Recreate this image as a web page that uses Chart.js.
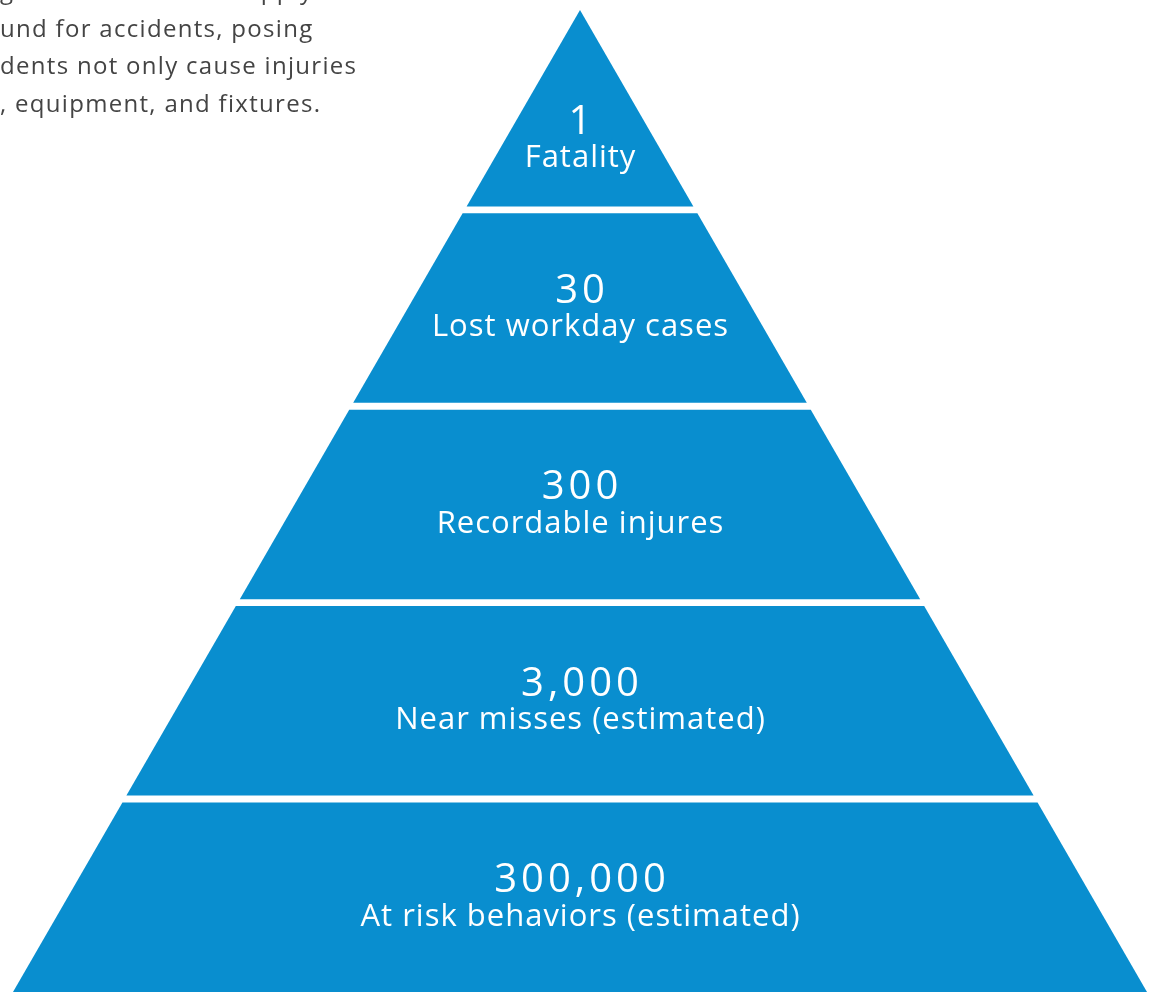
<!DOCTYPE html>
<html lang="en">
<head>
<meta charset="UTF-8">
<meta name="viewport" content="width=device-width, initial-scale=1.0">
<script src="https://cdn.jsdelivr.net/npm/chart.js@4.4.0/dist/chart.umd.min.js"></script>
<style>
  html, body { margin: 0; padding: 0; background: #fff; overflow: hidden; }
  #wrap { position: relative; width: 1151px; height: 992px; }
  #pyramid { position: absolute; left: 0; top: 0; }
  #intro {
    position: absolute; left: 0; top: -29px;
    font-family: "Open Sans", sans-serif; font-size: 24px; line-height: 37.5px;
    letter-spacing: 1.3px; color: #444; white-space: pre;
  }
</style>
<title>Safety pyramid</title>
</head>
<body>
<div id="wrap">
  <canvas id="pyramid" width="1151" height="992"></canvas>
  <div id="intro">g warehouses and supply chain
und for accidents, posing
dents not only cause injuries
, equipment, and fixtures.</div>
</div>
<script>
// levels, top of the pyramid first
const levels = ['Fatality', 'Lost workday cases', 'Recordable injures', 'Near misses (estimated)', 'At risk behaviors (estimated)'];
const counts = [1, 30, 300, 3000, 300000];

const blue = '#098ecf';
const gap = 0.035; // white strip between the bands, in level units
const n = levels.length;

// half width of the pyramid at height h (base = 1, apex = 0)
function half(h) { return (n - h) / n; }

const datasets = levels.map((name, k) => {
  const b = n - 1 - k;           // band index counted from the bottom
  const bot = b;
  const top = k === 0 ? n : b + 1 - gap;
  return {
    label: name,
    data: [
      {x: -half(bot), y: bot},
      {x: half(bot), y: bot},
      {x: half(top), y: top},
      {x: -half(top), y: top}
    ],
    showLine: true,
    fill: 'shape',
    backgroundColor: blue,
    borderColor: 'rgba(0,0,0,0)',
    borderWidth: 0,
    pointRadius: 0,
    tension: 0
  };
});

function spaced(ctx, text, x, y, sp) {
  ctx.letterSpacing = sp + 'px';
  ctx.fillText(text, x + sp / 2, y);
}

const labelPlugin = {
  id: 'levelLabels',
  afterDatasetsDraw(chart) {
    const {ctx, scales: {x, y}} = chart;
    ctx.save();
    ctx.fillStyle = '#fff';
    ctx.textAlign = 'center';
    ctx.textBaseline = 'middle';
    levels.forEach((name, k) => {
      const b = n - 1 - k;
      // the apex triangle keeps its text lower down, where it is wider
      const mid = k === 0 ? b + 0.33 : b + 0.47;
      const cx = x.getPixelForValue(0);
      const cy = y.getPixelForValue(mid);
      ctx.font = '40px "Open Sans"';
      spaced(ctx, counts[k].toLocaleString('en-US'), cx, cy - 19, 4);
      ctx.font = '31px "Open Sans"';
      spaced(ctx, name, cx, cy + 17, 1);
    });
    ctx.restore();
  }
};

new Chart(document.getElementById('pyramid'), {
  type: 'scatter',
  data: { datasets: datasets },
  options: {
    responsive: false,
    animation: false,
    layout: { padding: 0 },
    plugins: { legend: { display: false }, tooltip: { enabled: false } },
    scales: {
      x: { type: 'linear', display: false, min: -580 / 567, max: 571 / 567 },
      y: { type: 'linear', display: false, min: 0, max: 5 + 10 / 196.4 }
    }
  },
  plugins: [labelPlugin]
});
</script>
</body>
</html>
